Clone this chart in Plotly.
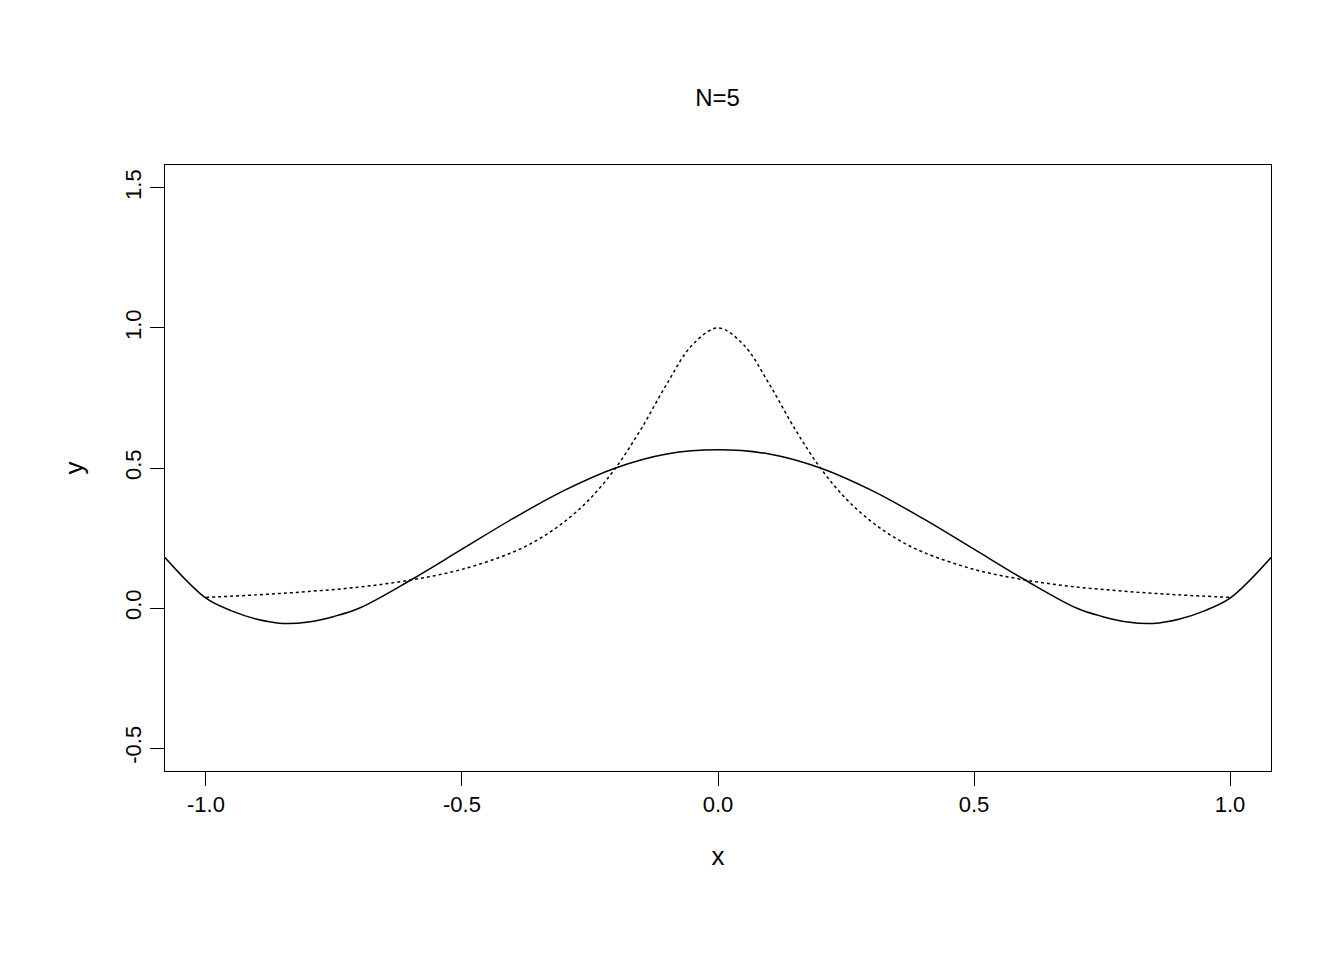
import plotly.graph_objects as go

sx = [-1.08,-1.0,-0.95,-0.9,-0.85,-0.8,-0.75,-0.7,-0.6,-0.5,-0.4,-0.3,-0.2,-0.1,0.0,
      0.1,0.2,0.3,0.4,0.5,0.6,0.7,0.75,0.8,0.85,0.9,0.95,1.0,1.08]
sy = [0.18,0.035,-0.01,-0.04,-0.055,-0.05,-0.03,0.0,0.1,0.21,0.32,0.42,0.5,0.55,0.565,
      0.55,0.5,0.42,0.32,0.21,0.1,0.0,-0.03,-0.05,-0.055,-0.04,-0.01,0.035,0.18]
dx = [-1.0,-0.9,-0.8,-0.7,-0.6,-0.5,-0.4,-0.35,-0.3,-0.25,-0.2,-0.15,-0.1,-0.05,0.0,
      0.05,0.1,0.15,0.2,0.25,0.3,0.35,0.4,0.5,0.6,0.7,0.8,0.9,1.0]
dy = [0.038,0.047,0.059,0.075,0.1,0.138,0.2,0.246,0.308,0.39,0.5,0.64,0.8,0.94,1.0,
      0.94,0.8,0.64,0.5,0.39,0.308,0.246,0.2,0.138,0.1,0.075,0.059,0.047,0.038]

fig = go.Figure()
fig.add_trace(go.Scatter(x=dx, y=dy, mode="lines", line=dict(color="black", width=1.5, dash="dot", shape="spline")))
fig.add_trace(go.Scatter(x=sx, y=sy, mode="lines", line=dict(color="black", width=1.5, shape="spline")))
font = dict(family="Liberation Sans, Arial", size=22, color="black")
fig.update_layout(
    width=1344, height=960, showlegend=False, plot_bgcolor="white", paper_bgcolor="white",
    margin=dict(l=157, r=81, t=157, b=197), font=font,
    title=dict(text="N=5", x=0.528, xanchor="center", y=0.915, font=dict(size=24, family="Liberation Sans, Arial")),
    xaxis=dict(range=[-1.08, 1.08], tickvals=[-1,-0.5,0,0.5,1], ticktext=["-1.0","-0.5","0.0","0.5","1.0"],
               ticks="outside", ticklen=14, tickcolor="black", showline=True, linecolor="black", mirror=True,
               showgrid=False, zeroline=False, title=dict(text="x", standoff=30)),
    yaxis=dict(range=[-0.582, 1.582], tickvals=[-0.5,0,0.5,1,1.5], ticktext=["-0.5","0.0","0.5","1.0","1.5"],
               ticks="outside", ticklen=14, tickcolor="black", tickangle=-90, showline=True, linecolor="black",
               mirror=True, showgrid=False, zeroline=False, title=dict(text="y", standoff=30)),
)
fig.write_html("out.html")
